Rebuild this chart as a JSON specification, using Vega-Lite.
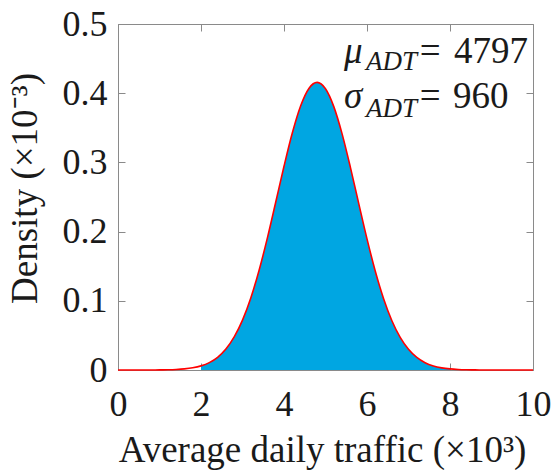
{
  "$schema": "https://vega.github.io/schema/vega-lite/v6.json",
  "autosize": "none",
  "width": 415,
  "height": 346,
  "padding": {"left": 118, "top": 24, "right": 22, "bottom": 100},
  "background": "white",
  "config": {
    "font": "Liberation Serif",
    "view": {"stroke": "#8a8a8a", "strokeWidth": 1},
    "axis": {
      "grid": false,
      "zindex": 1,
      "labelFlush": false,
      "domainColor": "#8a8a8a",
      "tickColor": "#8a8a8a",
      "tickSize": -7,
      "labelFont": "Liberation Serif",
      "labelFontSize": 36,
      "labelColor": "#1a1a1a",
      "titleFont": "Liberation Serif",
      "titleFontSize": 37,
      "titleFontWeight": "normal",
      "titleColor": "#1a1a1a"
    }
  },
  "data": {
    "values": [
      {"x": 0.0, "d": 0.0000}, {"x": 0.2, "d": 0.0000}, {"x": 0.4, "d": 0.0000},
      {"x": 0.6, "d": 0.00003}, {"x": 0.8, "d": 0.00007}, {"x": 1.0, "d": 0.00017},
      {"x": 1.2, "d": 0.00037}, {"x": 1.4, "d": 0.00079}, {"x": 1.6, "d": 0.00162},
      {"x": 1.8, "d": 0.00318}, {"x": 2.0, "d": 0.00596}, {"x": 2.2, "d": 0.01071},
      {"x": 2.4, "d": 0.0184}, {"x": 2.6, "d": 0.03029}, {"x": 2.8, "d": 0.04775},
      {"x": 3.0, "d": 0.07206}, {"x": 3.2, "d": 0.1041}, {"x": 3.4, "d": 0.1441},
      {"x": 3.6, "d": 0.191}, {"x": 3.8, "d": 0.2424}, {"x": 4.0, "d": 0.2944},
      {"x": 4.2, "d": 0.3425}, {"x": 4.4, "d": 0.3815}, {"x": 4.6, "d": 0.4069},
      {"x": 4.8, "d": 0.4156}, {"x": 5.0, "d": 0.4064}, {"x": 5.2, "d": 0.3806},
      {"x": 5.4, "d": 0.3412}, {"x": 5.6, "d": 0.2929}, {"x": 5.8, "d": 0.2408},
      {"x": 6.0, "d": 0.1895}, {"x": 6.2, "d": 0.1428}, {"x": 6.4, "d": 0.1031},
      {"x": 6.6, "d": 0.07122}, {"x": 6.8, "d": 0.04713}, {"x": 7.0, "d": 0.02987},
      {"x": 7.2, "d": 0.01812}, {"x": 7.4, "d": 0.01052}, {"x": 7.6, "d": 0.00585},
      {"x": 7.8, "d": 0.00312}, {"x": 8.0, "d": 0.00159}, {"x": 8.2, "d": 0.00078},
      {"x": 8.4, "d": 0.00036}, {"x": 8.6, "d": 0.00016}, {"x": 8.8, "d": 0.00007},
      {"x": 9.0, "d": 0.00003}, {"x": 9.2, "d": 0.0000}, {"x": 9.4, "d": 0.0000},
      {"x": 9.6, "d": 0.0000}, {"x": 9.8, "d": 0.0000}, {"x": 10.0, "d": 0.0000}
    ]
  },
  "resolve": {"scale": {"x": "independent", "y": "independent"}, "axis": {"x": "independent", "y": "independent"}},
  "layer": [
    {
      "layer": [
        {
          "transform": [{"filter": "datum.x >= 2 && datum.x <= 8"}],
          "mark": {"type": "area", "color": "#00A6E2", "interpolate": "monotone"},
          "encoding": {
            "x": {"field": "x", "type": "quantitative", "scale": {"domain": [0, 10], "nice": false, "zero": false},
              "axis": {"orient": "bottom", "values": [0, 2, 4, 6, 8, 10], "title": "Average daily traffic (×10³)", "labelPadding": 24, "titlePadding": 10, "titleX": 204, "format": "d"}},
            "y": {"field": "d", "type": "quantitative", "scale": {"domain": [0, 0.5], "nice": false},
              "axis": {"orient": "left", "values": [0, 0.1, 0.2, 0.3, 0.4, 0.5], "title": "Density (×10⁻³)", "labelPadding": 18, "titlePadding": 18, "titleY": 164, "format": "~g"}}
          }
        },
        {
          "mark": {"type": "line", "color": "#ff0000", "strokeWidth": 1.6, "interpolate": "monotone"},
          "encoding": {
            "x": {"field": "x", "type": "quantitative"},
            "y": {"field": "d", "type": "quantitative"}
          }
        },
        {
          "data": {"values": [{}]},
          "mark": {"type": "text", "text": "μ", "font": "Liberation Serif", "fontSize": 37, "fontStyle": "italic", "align": "left", "baseline": "alphabetic", "color": "#1a1a1a"},
          "encoding": {"x": {"datum": 5.446}, "y": {"datum": 0.4436}}
        },
        {
          "data": {"values": [{}]},
          "mark": {"type": "text", "text": "ADT", "font": "Liberation Serif", "fontSize": 27, "fontStyle": "italic", "align": "left", "baseline": "alphabetic", "color": "#1a1a1a"},
          "encoding": {"x": {"datum": 5.976}, "y": {"datum": 0.4335}}
        },
        {
          "data": {"values": [{}]},
          "mark": {"type": "text", "text": "=", "font": "Liberation Serif", "fontSize": 37, "align": "left", "baseline": "alphabetic", "color": "#1a1a1a"},
          "encoding": {"x": {"datum": 7.27}, "y": {"datum": 0.4436}}
        },
        {
          "data": {"values": [{}]},
          "mark": {"type": "text", "text": "4797", "font": "Liberation Serif", "fontSize": 37, "align": "left", "baseline": "alphabetic", "color": "#1a1a1a"},
          "encoding": {"x": {"datum": 8.096}, "y": {"datum": 0.4436}}
        },
        {
          "data": {"values": [{}]},
          "mark": {"type": "text", "text": "σ", "font": "Liberation Serif", "fontSize": 37, "fontStyle": "italic", "align": "left", "baseline": "alphabetic", "color": "#1a1a1a"},
          "encoding": {"x": {"datum": 5.446}, "y": {"datum": 0.3786}}
        },
        {
          "data": {"values": [{}]},
          "mark": {"type": "text", "text": "ADT", "font": "Liberation Serif", "fontSize": 27, "fontStyle": "italic", "align": "left", "baseline": "alphabetic", "color": "#1a1a1a"},
          "encoding": {"x": {"datum": 5.976}, "y": {"datum": 0.3656}}
        },
        {
          "data": {"values": [{}]},
          "mark": {"type": "text", "text": "=", "font": "Liberation Serif", "fontSize": 37, "align": "left", "baseline": "alphabetic", "color": "#1a1a1a"},
          "encoding": {"x": {"datum": 7.27}, "y": {"datum": 0.3786}}
        },
        {
          "data": {"values": [{}]},
          "mark": {"type": "text", "text": "960", "font": "Liberation Serif", "fontSize": 37, "align": "left", "baseline": "alphabetic", "color": "#1a1a1a"},
          "encoding": {"x": {"datum": 8.07}, "y": {"datum": 0.3786}}
        }
      ]
    },
    {
      "mark": {"type": "point", "opacity": 0},
      "encoding": {
        "x": {"field": "x", "type": "quantitative", "scale": {"domain": [0, 10], "nice": false, "zero": false},
          "axis": {"orient": "top", "values": [0, 2, 4, 6, 8, 10], "labels": false, "title": null, "domain": false}},
        "y": {"field": "d", "type": "quantitative", "scale": {"domain": [0, 0.5], "nice": false},
          "axis": {"orient": "right", "values": [0, 0.1, 0.2, 0.3, 0.4, 0.5], "labels": false, "title": null, "domain": false}}
      }
    }
  ]
}
